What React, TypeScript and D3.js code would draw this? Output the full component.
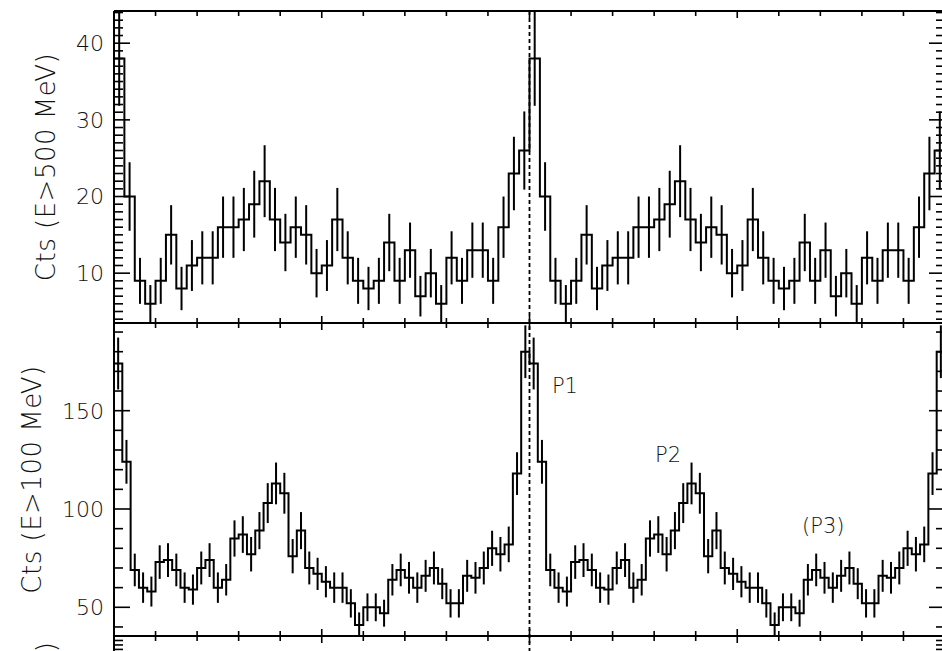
import React, { useEffect, useRef } from "react";
import * as d3 from "d3";

// counts per phase bin for one rotation; the profile is plotted twice (phase 0-2)
const countsE500 = [
  38, 20, 9, 6, 9, 15, 8, 11, 12, 12,
  16, 16, 17, 19, 22, 17, 14, 16, 15, 10,
  11, 17, 12, 9, 8, 9, 14, 9, 13, 7,
  10, 6, 12, 9, 13, 13, 9, 16, 23, 26,
];
const countsE100 = [
  174, 124, 69, 60, 58, 73, 74, 69, 60, 59,
  70, 74, 60, 64, 85, 87, 77, 89, 103, 113,
  108, 76, 89, 70, 67, 63, 60, 60, 52, 41,
  50, 50, 47, 64, 69, 65, 60, 66, 70, 62,
  52, 52, 66, 65, 70, 80, 77, 82, 118, 180,
];
const labelE500 = "Cts (E>500 MeV)";
const labelE100 = "Cts (E>100 MeV)";
const ticksE500 = [10, 20, 30, 40];
const ticksE100 = [50, 100, 150];
const peakNotes = [
  { text: "P1", phase: 1.054, cts: 159 },
  { text: "P2", phase: 1.302, cts: 124 },
  { text: "(P3)", phase: 1.656, cts: 88 },
];

const W = 942;
const H = 651;
const L = 114;
const R = 945;
const FONT = "DejaVu Sans";
const WEIGHT = 300;

function xTicks(svg, x, yPos, dir) {
  // dir = 1 -> ticks pointing down, -1 -> up
  const vals = d3.range(1, 20).map(i => i / 10);
  svg.append("g")
    .selectAll("line")
    .data(vals)
    .join("line")
    .attr("x1", d => x(d))
    .attr("x2", d => x(d))
    .attr("y1", yPos)
    .attr("y2", (d, i) => yPos + dir * ((i + 1) % 5 === 0 ? 7 : 5))
    .attr("stroke", "#000")
    .attr("stroke-width", 1.6);
}

function yTicks(svg, y, domain, major, minorStep) {
  const minor = d3.range(Math.ceil(domain[0] / minorStep) * minorStep, domain[1], minorStep)
    .filter(v => !major.includes(v));
  [[L, 1], [R, -1]].forEach(([xPos, dir]) => {
    const g = svg.append("g");
    g.selectAll(".mn")
      .data(minor)
      .join("line")
      .attr("x1", xPos)
      .attr("x2", xPos + dir * 9)
      .attr("y1", d => y(d))
      .attr("y2", d => y(d))
      .attr("stroke", "#000")
      .attr("stroke-width", 1.6);
    g.selectAll(".mj")
      .data(major)
      .join("line")
      .attr("x1", xPos)
      .attr("x2", xPos + dir * 16)
      .attr("y1", d => y(d))
      .attr("y2", d => y(d))
      .attr("stroke", "#000")
      .attr("stroke-width", 1.6);
  });
  svg.append("g")
    .selectAll("text")
    .data(major)
    .join("text")
    .attr("x", L - 10)
    .attr("y", d => y(d))
    .attr("dy", "0.36em")
    .attr("text-anchor", "end")
    .attr("font-family", FONT)
    .attr("font-weight", WEIGHT)
    .attr("font-size", 22)
    .attr("fill", "#111")
    .text(d => d);
}

function drawPanel(svg, x, opts) {
  const { counts, domain, top, bottom, major, minorStep, label, labelX, id } = opts;
  const y = d3.scaleLinear().domain(domain).range([bottom, top]);
  const n = counts.length;

  svg.append("defs").append("clipPath").attr("id", id)
    .append("rect")
    .attr("x", L).attr("y", top)
    .attr("width", R - L).attr("height", bottom - top);

  const body = svg.append("g").attr("clip-path", `url(#${id})`);
  const bins = d3.range(2 * n).map(k => ({ start: k / n, end: (k + 1) / n, v: counts[k % n] }));
  const pts = bins.map(b => [b.start, b.v]).concat([[2, counts[n - 1]]]);

  body.append("path")
    .attr("d", d3.line().x(d => x(d[0])).y(d => y(d[1])).curve(d3.curveStepAfter)(pts))
    .attr("fill", "none")
    .attr("stroke", "#000")
    .attr("stroke-width", 2);

  body.selectAll(".err")
    .data(bins)
    .join("line")
    .attr("x1", d => x((d.start + d.end) / 2))
    .attr("x2", d => x((d.start + d.end) / 2))
    .attr("y1", d => y(d.v + Math.sqrt(d.v)))
    .attr("y2", d => y(d.v - Math.sqrt(d.v)))
    .attr("stroke", "#000")
    .attr("stroke-width", 2);

  yTicks(svg, y, domain, major, minorStep);
  xTicks(svg, x, top, 1);
  xTicks(svg, x, bottom, -1);

  svg.append("text")
    .attr("transform", `translate(${labelX},${(top + bottom) / 2}) rotate(-90)`)
    .attr("text-anchor", "middle")
    .attr("font-family", FONT)
    .attr("font-weight", WEIGHT)
    .attr("font-size", 26)
    .attr("letter-spacing", 0.5)
    .attr("fill", "#111")
    .text(label);

  return y;
}

export default function App() {
  const ref = useRef(null);

  useEffect(() => {
    const svg = d3.select(ref.current).html("");
    const x = d3.scaleLinear().domain([0, 2]).range([L, R]);

    svg.append("rect").attr("width", W).attr("height", H).attr("fill", "#fff");

    drawPanel(svg, x, {
      counts: countsE500, domain: [3.5, 44.2], top: 11, bottom: 323,
      major: ticksE500, minorStep: 1, label: labelE500, labelX: 55, id: "clipTop",
    });
    const yMid = drawPanel(svg, x, {
      counts: countsE100, domain: [35.4, 194.6], top: 323, bottom: 636,
      major: ticksE100, minorStep: 10, label: labelE100, labelX: 41, id: "clipMid",
    });

    // third panel, cut off by the picture edge
    const yLow = d3.scaleLinear().domain([0, 70]).range([949, 636]);
    yTicks(svg, yLow, [0, 70], [], 1);
    xTicks(svg, x, 636, 1);
    svg.append("text")
      .attr("transform", `translate(55,642) rotate(-90)`)
      .attr("text-anchor", "end")
      .attr("font-family", FONT)
      .attr("font-weight", WEIGHT)
      .attr("font-size", 26)
      .attr("fill", "#111")
      .text(")");

    // frame lines
    const frame = svg.append("g").attr("stroke", "#000").attr("stroke-width", 2);
    [11, 323, 636].forEach(yy => {
      frame.append("line").attr("x1", L).attr("x2", R).attr("y1", yy).attr("y2", yy);
    });
    frame.append("line").attr("x1", L).attr("x2", L).attr("y1", 11).attr("y2", H);
    frame.append("line").attr("x1", R).attr("x2", R).attr("y1", 11).attr("y2", H);

    // phase 1.0 marker
    svg.append("line")
      .attr("x1", x(1)).attr("x2", x(1))
      .attr("y1", 11).attr("y2", H)
      .attr("stroke", "#000")
      .attr("stroke-width", 1.8)
      .attr("stroke-dasharray", "4,3");

    svg.append("g")
      .selectAll("text")
      .data(peakNotes)
      .join("text")
      .attr("x", d => x(d.phase))
      .attr("y", d => yMid(d.cts))
      .attr("font-family", FONT)
      .attr("font-weight", WEIGHT)
      .attr("font-size", 21)
      .attr("fill", "#111")
      .text(d => d.text);
  }, []);

  return (
    <svg
      ref={ref}
      width={W}
      height={H}
      style={{ position: "absolute", left: 0, top: 0 }}
    />
  );
}
